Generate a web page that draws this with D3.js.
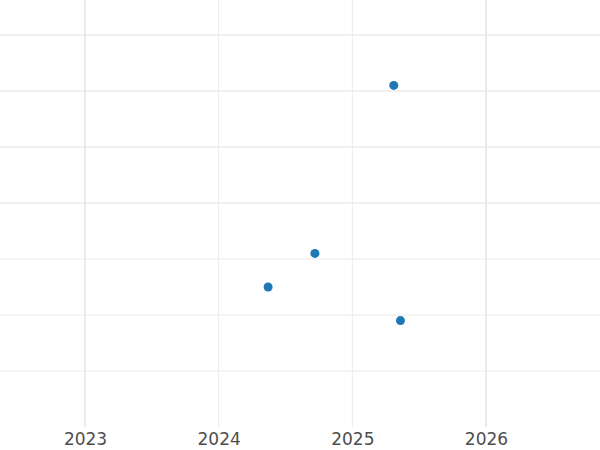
<!DOCTYPE html><html><head><script src="https://cdn.jsdelivr.net/npm/d3@7"></script>
<style>body{margin:0}</style></head><body><svg id="c" width="600" height="450"></svg>
<script>
const xVals=[2025.31,2024.72,2024.37,2025.36];
const yVals=[5.1,2.1,1.5,0.9];
const xTicks=[2023,2024,2025,2026];
const yTicks=[0,1,2,3,4,5,6];
const svg=d3.select("#c");
const x=d3.scaleLinear().domain([2022.364,2026.853]).range([0,600]);
const y=d3.scaleLinear().domain([-1,6.625]).range([427,0]);
svg.append("g").selectAll("line").data(yTicks).join("line")
 .attr("x1",0).attr("x2",600).attr("y1",d=>y(d)).attr("y2",d=>y(d))
 .attr("stroke","#ebebeb").attr("stroke-width",d=>d>=3?1.5:1);
svg.append("g").selectAll("line").data(xTicks).join("line")
 .attr("y1",0).attr("y2",427).attr("x1",d=>x(d)).attr("x2",d=>x(d))
 .attr("stroke","#ebebeb").attr("stroke-width",d=>(d==2023||d==2026)?2:1);
const ax=svg.append("g").attr("transform","translate(0,427)")
 .call(d3.axisBottom(x).tickValues(xTicks).tickFormat(d3.format("d")).tickSize(0).tickPadding(6));
ax.select(".domain").remove();
ax.selectAll("text").attr("font-family","DejaVu Sans").attr("font-size",17).attr("fill","#4d4d4d");
svg.append("g").selectAll("circle").data(xVals).join("circle")
 .attr("cx",d=>x(d)).attr("cy",(d,i)=>y(yVals[i])).attr("r",4.5).attr("fill","#1f77b4");
</script></body></html>
